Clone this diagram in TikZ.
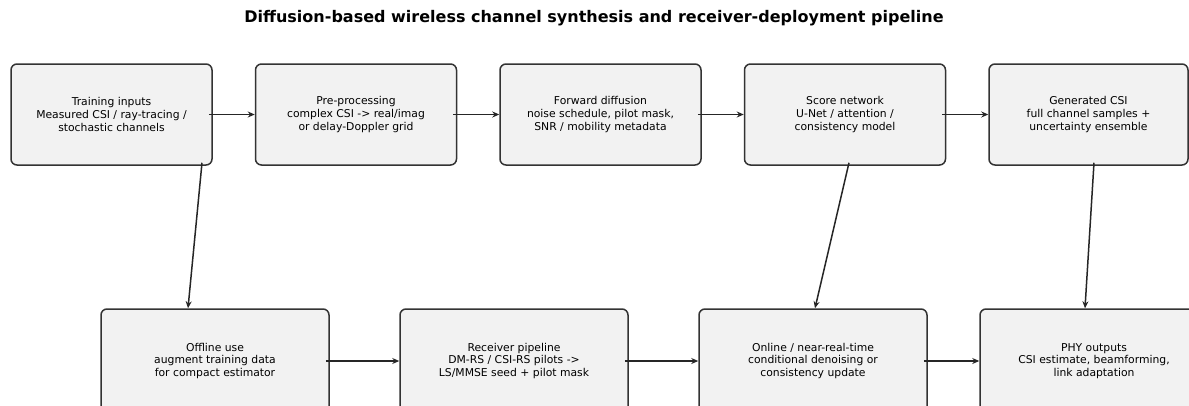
\documentclass[tikz,border=0pt]{standalone}
\usepackage{fontspec}
\setmainfont{DejaVu Sans}
\usetikzlibrary{arrows.meta}
\definecolor{boxfill}{HTML}{F2F2F2}
\definecolor{boxline}{HTML}{333333}
\tikzset{
  pbox/.style={draw=boxline, fill=boxfill, line width=1.5pt, rounded corners=6pt,
    align=center, font=\fontsize{10.8}{12.7}\selectfont, inner sep=0pt},
  topbox/.style={pbox, minimum width=201pt, minimum height=101pt},
  botbox/.style={pbox, minimum width=228pt, minimum height=104pt},
  conn/.style={draw=black!85, line width=1.5pt, -{Stealth[length=7pt,width=6pt]}},
  horiz/.style={conn, shorten <=-4pt},
}
\begin{document}
\begin{tikzpicture}[x=1pt,y=-1pt]
\useasboundingbox (0,0) rectangle (1189,405);
\node[font=\bfseries\fontsize{16}{18}\selectfont] (title) at (594,18)
  {Diffusion-based wireless channel synthesis and receiver-deployment pipeline};

\node[topbox] (t1) at (111.5,114.5) {Training inputs\\Measured CSI / ray-tracing /\\stochastic channels};
\node[topbox] (t2) at (356,114.5) {Pre-processing\\complex CSI -> real/imag\\or delay-Doppler grid};
\node[topbox] (t3) at (600.5,114.5) {Forward diffusion\\noise schedule, pilot mask,\\SNR / mobility metadata};
\node[topbox] (t4) at (845,114.5) {Score network\\U-Net / attention /\\consistency model};
\node[topbox, minimum width=199pt] (t5) at (1088.5,114.5) {Generated CSI\\full channel samples +\\uncertainty ensemble};

\node[botbox] (b6) at (215,361) {Offline use\\augment training data\\for compact estimator};
\node[botbox] (b7) at (514,361) {Receiver pipeline\\DM-RS / CSI-RS pilots ->\\LS/MMSE seed + pilot mask};
\node[botbox] (b8) at (813,361) {Online / near-real-time\\conditional denoising or\\consistency update};
\node[botbox] (b9) at (1094,361) {PHY outputs\\CSI estimate, beamforming,\\link adaptation};

\draw[horiz] (t1.east) -- (t2.west);
\draw[horiz] (t2.east) -- (t3.west);
\draw[horiz] (t3.east) -- (t4.west);
\draw[horiz] (t4.east) -- (t5.west);

\draw[horiz] (b6.east) -- (b7.west);
\draw[horiz] (b7.east) -- (b8.west);
\draw[horiz] (b8.east) -- (b9.west);

\draw[conn] ([xshift=90.5pt,yshift=3pt]t1.south) -- ([xshift=-27pt]b6.north);
\draw[conn] ([xshift=4pt,yshift=3pt]t4.south) -- ([xshift=2pt]b8.north);
\draw[conn] ([xshift=5.5pt,yshift=3pt]t5.south) -- ([xshift=-9pt]b9.north);
\end{tikzpicture}
\end{document}
